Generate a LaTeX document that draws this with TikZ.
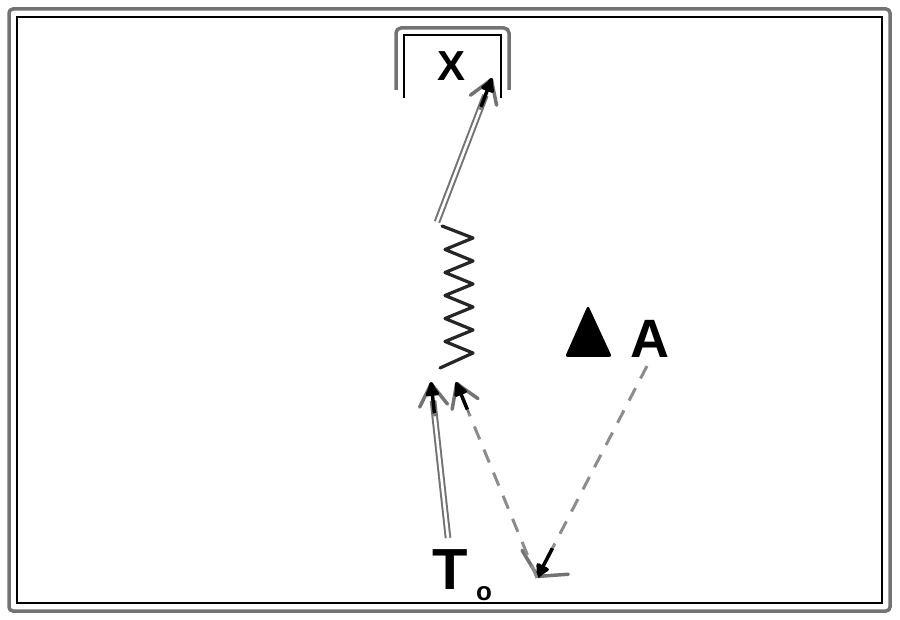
\documentclass[tikz,border=0pt]{standalone}
\usepackage{fontspec}
\setmainfont{Liberation Sans}
\usetikzlibrary{arrows.meta,calc}
\tikzset{
  dbl/.style={draw=black!55, line width=2pt, double=white, double distance=2.6pt},
  dsh/.style={draw=black!45, line width=3pt, dash pattern=on 14pt off 11pt},
  barb/.style={draw=black!55, line width=2.5pt, -{Straight Barb[length=22pt,width=28pt,line width=3.5pt,round]}},
  wbarb/.style={draw=black!55, line width=2.5pt, -{Straight Barb[length=16pt,width=52pt,line width=3.5pt,round]}},
  core/.style={draw=black, line width=3.5pt, -{Latex[length=18pt,width=17pt,round]}},
  lbl/.style={inner sep=0pt, font=\bfseries},
  sprg/.style={draw=black!85, line width=3.2pt, line join=round, line cap=round}
}
\begin{document}
\begin{tikzpicture}[x=1pt,y=-1pt]
\useasboundingbox (0,0) rectangle (900,620);
% frame
\draw[black!55, line width=3.5pt, rounded corners=4pt] (9,9) rectangle (890,611);
\draw[black, line width=1.6pt] (17,17) rectangle (882,603);
% goal box
\draw[black!55, line width=3.5pt, rounded corners=5pt] (396,90) -- (396,28) -- (509,28) -- (509,90);
\draw[black, line width=1.8pt] (404,98) -- (404,35) -- (501,35) -- (501,98);
% labels
\node[lbl, font=\bfseries\fontsize{42}{42}\selectfont] (X) at (452,66) {X};
\node[lbl, font=\bfseries\fontsize{54}{54}\selectfont] (A) at (650,339) {A};
\node[lbl, font=\bfseries\fontsize{58}{58}\selectfont] (T) at (450,570) {T};
\node[lbl, font=\bfseries\fontsize{26}{26}\selectfont] (Tsub) at (484,594) {o};
% triangle
\fill[black, rounded corners=3pt] (565,357) -- (588,305) -- (612,357) -- cycle;
% spring
\coordinate (sTop) at (442,226);
\coordinate (sBot) at (440,368);
\draw[sprg] (sTop) -- (473,238) -- (445,249.5) -- (473,261) -- (445,272.5) -- (473,284)
  -- (445,295.5) -- (473,307) -- (445,318.5) -- (473,330) -- (445,341.5) -- (473,353) -- (sBot);
% arrow spring -> X
\coordinate (sOut) at (437,222);
\coordinate (xIn) at (492,78);
\draw[dbl] (sOut) -- ($(sOut)!0.88!(xIn)$);
\draw[barb] ($(sOut)!0.78!(xIn)$) -- (xIn);
\draw[core] ($(sOut)!0.8!(xIn)$) -- (xIn);
% arrow T -> spring
\coordinate (tOut) at (448,538);
\coordinate (tIn) at (431,382);
\draw[dbl] (tOut) -- ($(tOut)!0.88!(tIn)$);
\draw[barb] ($(tOut)!0.78!(tIn)$) -- (tIn);
\draw[core] ($(tOut)!0.8!(tIn)$) -- (tIn);
% dashed V
\coordinate (aOut) at (647,366);
\coordinate (vBot) at (537,578);
\coordinate (dIn) at (456,382);
\draw[dsh] (aOut) -- ($(aOut)!0.86!(vBot)$);
\draw[wbarb] ($(aOut)!0.86!(vBot)$) -- (vBot);
\draw[core] ($(aOut)!0.86!(vBot)$) -- (vBot);
\draw[dsh] (vBot) -- ($(vBot)!0.84!(dIn)$);
\draw[barb] ($(vBot)!0.84!(dIn)$) -- (dIn);
\draw[core] ($(vBot)!0.86!(dIn)$) -- (dIn);
\end{tikzpicture}
\end{document}
